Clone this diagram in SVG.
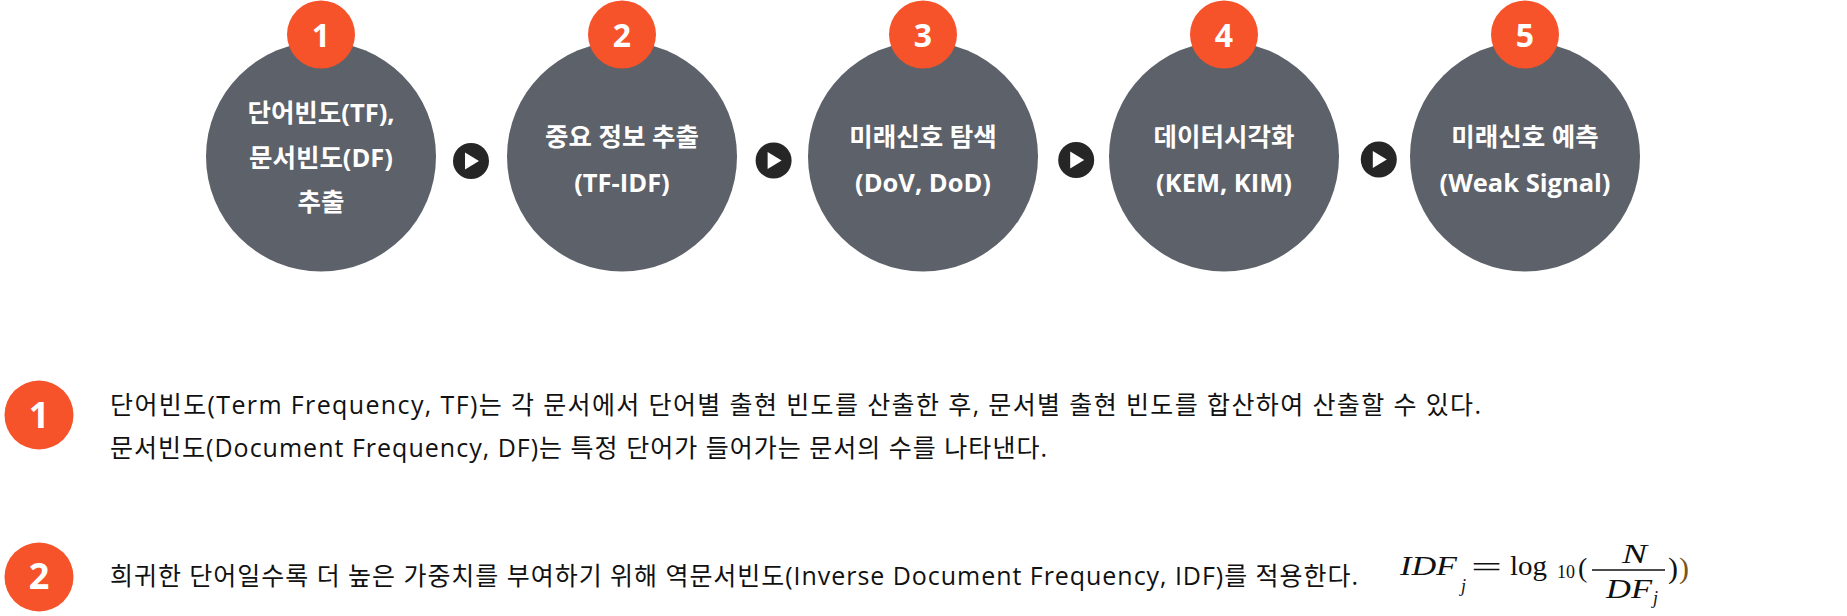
<svg xmlns="http://www.w3.org/2000/svg" width="1847" height="616" viewBox="0 0 1847 616">
<style>
.step{fill:#5d6169}
.badge{fill:#f6532b}
.num{font-family:"Open Sans","Noto Sans CJK KR",sans-serif;font-weight:700;fill:#fff;text-anchor:middle}
.lbl{font-family:"Open Sans","Noto Sans CJK KR",sans-serif;font-weight:700;font-size:25.5px;fill:#fff;text-anchor:middle}
.arrow-bg{fill:#262626}
.arrow-tri{fill:#fff}
.body{font-family:"Open Sans","Noto Sans CJK KR",sans-serif;font-size:25px;fill:#111}
.math{font-family:"Liberation Serif","Times New Roman",serif;fill:#111}
.it{font-style:italic}
</style>
<rect width="1847" height="616" fill="#fff"/>

<g id="connectors">
  <g id="arrow-1-2"><circle class="arrow-bg" cx="471" cy="161" r="18"/><polygon class="arrow-tri" points="465,152.5 465,169.5 479,161"/></g>
  <g id="arrow-2-3"><circle class="arrow-bg" cx="773.6" cy="160.5" r="18"/><polygon class="arrow-tri" points="767.6,152 767.6,169 781.6,160.5"/></g>
  <g id="arrow-3-4"><circle class="arrow-bg" cx="1076.2" cy="160" r="18"/><polygon class="arrow-tri" points="1070.2,151.5 1070.2,168.5 1084.2,160"/></g>
  <g id="arrow-4-5"><circle class="arrow-bg" cx="1378.8" cy="159.5" r="18"/><polygon class="arrow-tri" points="1372.8,151 1372.8,168 1386.8,159.5"/></g>
</g>

<g id="step-1">
  <circle class="step" cx="321" cy="156.5" r="115"/>
  <circle class="badge" cx="321" cy="34.5" r="34"/>
  <text class="num" x="321" y="46.5" font-size="32">1</text>
  <text class="lbl" x="321" y="122">단어빈도(TF),</text>
  <text class="lbl" x="321" y="167">문서빈도(DF)</text>
  <text class="lbl" x="321" y="211">추출</text>
</g>
<g id="step-2">
  <circle class="step" cx="622" cy="156.5" r="115"/>
  <circle class="badge" cx="622" cy="34.5" r="34"/>
  <text class="num" x="622" y="46.5" font-size="32">2</text>
  <text class="lbl" x="622" y="146">중요 정보 추출</text>
  <text class="lbl" x="622" y="192">(TF-IDF)</text>
</g>
<g id="step-3">
  <circle class="step" cx="923" cy="156.5" r="115"/>
  <circle class="badge" cx="923" cy="34.5" r="34"/>
  <text class="num" x="923" y="46.5" font-size="32">3</text>
  <text class="lbl" x="923" y="146">미래신호 탐색</text>
  <text class="lbl" x="923" y="192">(DoV, DoD)</text>
</g>
<g id="step-4">
  <circle class="step" cx="1224" cy="156.5" r="115"/>
  <circle class="badge" cx="1224" cy="34.5" r="34"/>
  <text class="num" x="1224" y="46.5" font-size="32">4</text>
  <text class="lbl" x="1224" y="146">데이터시각화</text>
  <text class="lbl" x="1224" y="192">(KEM, KIM)</text>
</g>
<g id="step-5">
  <circle class="step" cx="1525" cy="156.5" r="115"/>
  <circle class="badge" cx="1525" cy="34.5" r="34"/>
  <text class="num" x="1525" y="46.5" font-size="32">5</text>
  <text class="lbl" x="1525" y="146">미래신호 예측</text>
  <text class="lbl" x="1525" y="192">(Weak Signal)</text>
</g>

<g id="note-1">
  <circle class="badge" cx="39" cy="415" r="34.5"/>
  <text class="num" x="39" y="428" font-size="36">1</text>
  <text class="body" x="110" y="414" textLength="1371" lengthAdjust="spacing">단어빈도(Term Frequency, TF)는 각 문서에서 단어별 출현 빈도를 산출한 후, 문서별 출현 빈도를 합산하여 산출할 수 있다.</text>
  <text class="body" x="110" y="457" textLength="937" lengthAdjust="spacing">문서빈도(Document Frequency, DF)는 특정 단어가 들어가는 문서의 수를 나타낸다.</text>
</g>

<g id="note-2">
  <circle class="badge" cx="39" cy="577" r="34.5"/>
  <text class="num" x="39" y="589" font-size="36">2</text>
  <text class="body" x="110" y="585" textLength="1248" lengthAdjust="spacing">희귀한 단어일수록 더 높은 가중치를 부여하기 위해 역문서빈도(Inverse Document Frequency, IDF)를 적용한다.</text>
</g>

<g id="formula">
  <text class="math it" x="1400" y="575" font-size="27" textLength="57" lengthAdjust="spacingAndGlyphs">IDF</text>
  <text class="math it" x="1461" y="592" font-size="18">j</text>
  <text class="math" x="1471" y="577" font-size="30" textLength="31" lengthAdjust="spacingAndGlyphs">=</text>
  <text class="math" x="1510" y="575" font-size="28" textLength="37" lengthAdjust="spacingAndGlyphs">log</text>
  <text class="math" x="1557" y="578" font-size="18">10</text>
  <text class="math" x="1578" y="577" font-size="28">(</text>
  <line x1="1592" y1="570" x2="1665" y2="570" stroke="#111" stroke-width="1.3"/>
  <text class="math it" x="1622" y="563" font-size="28" textLength="25" lengthAdjust="spacingAndGlyphs">N</text>
  <text class="math it" x="1606" y="598" font-size="28" textLength="46" lengthAdjust="spacingAndGlyphs">DF</text>
  <text class="math it" x="1653" y="604" font-size="18">j</text>
  <text class="math" x="1668" y="578" font-size="30">)</text>
  <text class="math" x="1679" y="578" font-size="30" style="fill:#7a5520">)</text>
</g>
</svg>
